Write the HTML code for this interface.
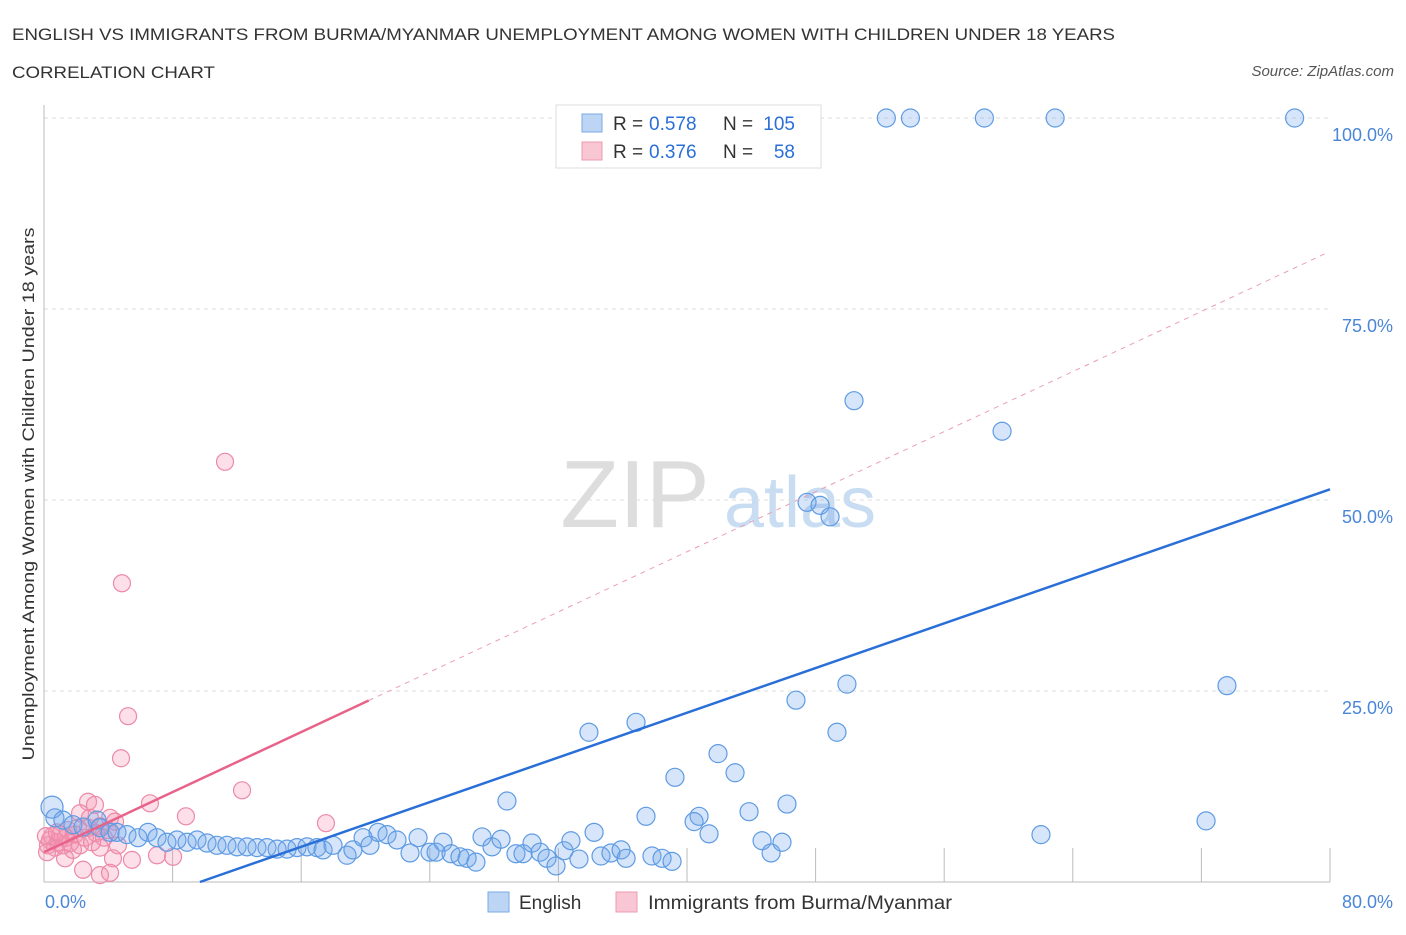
<!DOCTYPE html>
<html><head><meta charset="utf-8"><style>
body{margin:0;background:#fff;font-family:"Liberation Sans",sans-serif;}
svg text{font-family:"Liberation Sans",sans-serif;}
</style></head><body>
<svg width="1406" height="930" xmlns="http://www.w3.org/2000/svg">
<text x="12" y="40" font-size="17" fill="#333" textLength="1103" lengthAdjust="spacingAndGlyphs">ENGLISH VS IMMIGRANTS FROM BURMA/MYANMAR UNEMPLOYMENT AMONG WOMEN WITH CHILDREN UNDER 18 YEARS</text>
<text x="12" y="78" font-size="17" fill="#333" textLength="203" lengthAdjust="spacingAndGlyphs">CORRELATION CHART</text>
<text x="1394" y="76" font-size="15" fill="#555" font-style="italic" text-anchor="end">Source: ZipAtlas.com</text>
<text x="635" y="527" font-size="96" fill="#ddd" text-anchor="middle" font-family="Liberation Serif">ZIP</text>
<text x="800" y="527" font-size="72" fill="#c8dcf2" text-anchor="middle">atlas</text>
<g id="grid"></g>
<g id="pts"></g>
<g id="lines"></g>
<text transform="translate(34,494) rotate(-90)" font-size="17" fill="#333" text-anchor="middle" textLength="533" lengthAdjust="spacingAndGlyphs">Unemployment Among Women with Children Under 18 years</text>
<g>
<rect x="556" y="105" width="265" height="63" fill="#fff" stroke="#ddd"/>
<rect x="582" y="114" width="20" height="18" fill="#bcd5f5" stroke="#7aaae6"/>
<rect x="582" y="142" width="20" height="18" fill="#f9c6d3" stroke="#ec9bb2"/>
<text x="613" y="130" font-size="19" fill="#333">R =</text>
<text x="649" y="130" font-size="19" fill="#2a6fd8">0.578</text>
<text x="723" y="130" font-size="19" fill="#333">N =</text>
<text x="795" y="130" font-size="19" fill="#2a6fd8" text-anchor="end">105</text>
<text x="613" y="158" font-size="19" fill="#333">R =</text>
<text x="649" y="158" font-size="19" fill="#2a6fd8">0.376</text>
<text x="723" y="158" font-size="19" fill="#333">N =</text>
<text x="795" y="158" font-size="19" fill="#2a6fd8" text-anchor="end">58</text>
</g>
<g>
<rect x="488" y="892" width="21" height="20" fill="#bcd5f5" stroke="#7aaae6"/>
<text x="519" y="909" font-size="19" fill="#333">English</text>
<rect x="616" y="892" width="21" height="20" fill="#f9c6d3" stroke="#ec9bb2"/>
<text x="648" y="909" font-size="19" fill="#333" textLength="304" lengthAdjust="spacingAndGlyphs">Immigrants from Burma/Myanmar</text>
</g>
</svg>
<script>
const blueX=[0.50,0.68,1.18,1.80,2.43,3.30,3.48,4.11,4.54,5.16,5.85,6.47,7.03,7.65,8.27,8.90,9.52,10.14,10.76,11.38,12.01,12.63,13.25,13.87,14.50,15.12,15.74,16.36,16.98,17.36,17.98,18.85,19.22,19.85,20.28,20.78,21.34,21.96,22.77,23.27,24.01,24.82,24.39,25.32,25.88,26.32,26.87,27.25,27.87,28.43,28.80,29.36,29.80,30.36,30.86,31.29,31.85,32.35,32.78,33.28,34.22,34.65,35.27,35.90,36.21,37.45,37.82,38.45,39.07,39.25,42.99,40.75,40.44,41.37,43.86,46.22,44.67,45.23,45.91,41.93,33.90,36.83,46.78,49.33,49.95,73.59,47.47,48.28,48.90,50.39,59.60,62.02,72.29,52.4,53.9,58.5,62.9,77.8];
const blueY=[9.8,8.4,8.1,7.5,7.2,8.1,7.1,6.5,6.5,6.2,5.8,6.5,5.8,5.2,5.5,5.2,5.5,5.1,4.8,4.8,4.6,4.6,4.5,4.5,4.3,4.3,4.5,4.6,4.5,4.2,4.8,3.5,4.2,5.8,4.8,6.5,6.2,5.5,3.8,5.8,3.9,5.2,3.9,3.7,3.3,3.1,2.6,5.9,4.6,5.6,10.6,3.7,3.7,5.1,3.9,3.1,2.1,4.1,5.4,3.0,6.5,3.4,3.8,4.2,3.1,8.6,3.4,3.1,2.7,13.7,14.3,8.6,7.9,6.3,9.2,10.2,5.4,3.8,5.2,16.8,19.6,20.9,23.8,19.6,25.9,25.7,49.7,49.3,47.8,63.0,59.0,6.2,8.0,100,100,100,100,100];
const pinkX=[11.26,4.85,5.23,4.79,12.32,6.59,2.74,3.17,8.83,17.54,2.24,4.11,5.47,7.03,8.03,4.29,3.48,2.43,3.48,4.11,1.31,1.80,0.25,0.37,0.50,0.68,0.87,1.00,1.18,1.37,1.49,1.62,1.93,2.12,2.24,2.55,2.74,2.99,3.24,3.48,3.73,3.98,4.42,4.60,0.19,0.12,0.81,2.86];
const pinkY=[55.0,39.1,21.7,16.2,12.0,10.3,10.5,10.1,8.6,7.7,9.0,8.4,2.9,3.5,3.3,3.1,4.5,1.6,0.9,1.2,3.1,4.2,4.8,5.5,6.0,4.5,5.2,6.2,4.8,5.8,6.8,5.1,6.2,7.1,4.8,5.8,7.1,5.2,6.4,7.3,5.8,6.8,7.9,4.8,3.9,6.0,6.5,8.4];
const yTicks=[25,50,75,100];
const xTickLabels=["0.0%","80.0%"];
const blueLine=[9.7,0,80,51.4];
const pinkLine=[0,3.9,20.2,79.8];
const pinkSlope=0.983;

const NS="http://www.w3.org/2000/svg";
const sx=v=>44+v/80*1286, sy=v=>882-v/100*764;
function mk(tag,attrs,parent){const e=document.createElementNS(NS,tag);for(const k in attrs)e.setAttribute(k,attrs[k]);parent.appendChild(e);return e;}
const grid=document.getElementById('grid');
yTicks.forEach(t=>{
  const l=mk('line',{x1:44,x2:1330,y1:sy(t),y2:sy(t),stroke:'#ddd','stroke-dasharray':'4,4'},grid);
  
  
  const tx=mk('text',{x:1393,y:sy(t)+23,'font-size':18,fill:'#4a86d8','text-anchor':'end'},grid);
  tx.textContent=t.toFixed(1)+'%';
  
  
});
mk('line',{x1:44,x2:44,y1:105,y2:882,stroke:'#bbb'},grid);
mk('line',{x1:44,x2:1330,y1:882,y2:882,stroke:'#bbb'},grid);
for(let i=1;i<=10;i++){const x=sx(i*8);mk('line',{x1:x,x2:x,y1:848,y2:882,stroke:'#bbb'},grid);}
const xl=mk('text',{x:45,y:908,'font-size':18,fill:'#4a86d8'},grid);xl.textContent=xTickLabels[0];


const xr=mk('text',{x:1393,y:908,'font-size':18,fill:'#4a86d8','text-anchor':'end'},grid);xr.textContent=xTickLabels[1];


const pts=document.getElementById('pts');
pinkX.forEach((x,i)=>{const c=mk('circle',{cx:sx(x),cy:sy(pinkY[i]),r:8.5,fill:'rgba(244,150,178,0.3)',stroke:'#ec8aa8','stroke-width':1.2},pts);
  
  });
blueX.forEach((x,i)=>{const c=mk('circle',{cx:sx(x),cy:sy(blueY[i]),r:i===0?11:9,fill:'rgba(120,170,235,0.3)',stroke:'#5e9be3','stroke-width':1.2},pts);
  
  });
const lines=document.getElementById('lines');
const bl=mk('line',{x1:sx(blueLine[0]),y1:sy(blueLine[1]),x2:sx(blueLine[2]),y2:sy(blueLine[3]),stroke:'#2a6fd8','stroke-width':2.5},lines);


const py=x=>pinkLine[1]+pinkSlope*x;
const pl=mk('line',{x1:sx(pinkLine[0]),y1:sy(py(pinkLine[0])),x2:sx(pinkLine[2]),y2:sy(py(pinkLine[2])),stroke:'#e8638a','stroke-width':2.5},lines);


const pd=mk('line',{x1:sx(pinkLine[2]),y1:sy(py(pinkLine[2])),x2:sx(pinkLine[3]),y2:sy(py(pinkLine[3])),stroke:'#eaa0b5','stroke-width':1,'stroke-dasharray':'5,5'},lines);


</script>
</body></html>
